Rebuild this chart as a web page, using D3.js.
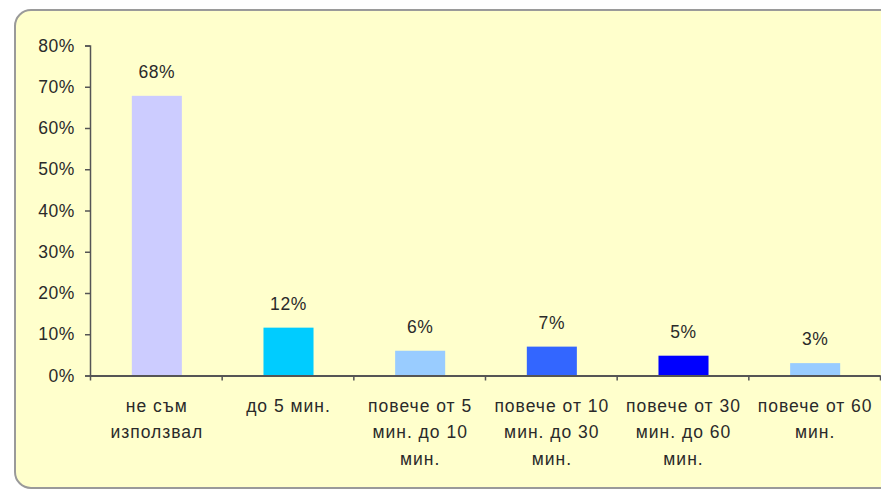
<!DOCTYPE html>
<html>
<head>
<meta charset="utf-8">
<script src="https://cdn.jsdelivr.net/npm/d3@7"></script>
<style>
  body { margin: 0; background: #fff; }
  svg { display: block; font-family: "Liberation Sans", Arial, sans-serif; }
</style>
</head>
<body>
<svg id="viz" width="881" height="491"></svg>
<script>
// chart data
const categories = [
  ['не съм', 'използвал'],
  ['до 5 мин.'],
  ['повече от 5', 'мин. до 10', 'мин.'],
  ['повече от 10', 'мин. до 30', 'мин.'],
  ['повече от 30', 'мин. до 60', 'мин.'],
  ['повече от 60', 'мин.']
];
const values = [67.8, 11.6, 6, 7, 4.8, 3];
const barColors = ['#CCCCFF', '#00CCFF', '#99CCFF', '#3366FF', '#0000FF', '#99CCFF'];
const yTicks = [0, 10, 20, 30, 40, 50, 60, 70, 80];

const svg = d3.select('#viz');

// background panel
svg
  .append('rect')
  .attr('x', 15)
  .attr('y', 10)
  .attr('width', 880)
  .attr('height', 478)
  .attr('rx', 16)
  .attr('ry', 16)
  .style('fill', '#FFFFCC')
  .style('stroke', '#9a9a9a')
  .style('stroke-width', 2);

const plotLeft = 90, plotRight = 880, plotTop = 45.5, plotBottom = 375.5;

var x = d3
  .scaleBand()
  .domain(d3.range(categories.length))
  .range([plotLeft, plotRight])
  .paddingInner(0.62)
  .paddingOuter(0.31);

var y = d3.scaleLinear().domain([0, 80]).range([plotBottom, plotTop]);

// bars
svg
  .append('g')
  .selectAll('rect')
  .data(values)
  .join('rect')
  .attr('x', (d, i) => x(i) + 1)
  .attr('y', (d) => y(d))
  .attr('width', x.bandwidth())
  .attr('height', (d) => y(0) - y(d))
  .style('fill', (d, i) => barColors[i]);

// value labels
svg
  .append('g')
  .selectAll('text')
  .data(values)
  .join('text')
  .attr('x', (d, i) => x(i) + x.bandwidth() / 2 + 1)
  .attr('y', (d) => y(d) - 18)
  .attr('text-anchor', 'middle')
  .style('font-size', '17.5px')
  .style('letter-spacing', '0.6px')
  .style('fill', '#2a2a2a')
  .text((d) => Math.round(d) + '%');

// y axis
var yAxis = svg
  .append('g')
  .attr('transform', 'translate(' + plotLeft + ',0)')
  .call(
    d3.axisLeft(y)
      .tickValues(yTicks)
      .tickSize(5)
      .tickPadding(10)
      .tickFormat((d) => d + '%')
  );
yAxis.select('.domain').attr('stroke', '#555').attr('stroke-width', 1.5);
yAxis.selectAll('.tick line').attr('stroke', '#555').attr('stroke-width', 1.5);
yAxis
  .selectAll('text')
  .style('font-size', '17.5px')
  .style('letter-spacing', '0.6px')
  .style('font-family', '"Liberation Sans", Arial, sans-serif')
  .style('fill', '#2a2a2a');

// x axis (ticks between categories)
var xEdge = d3.scaleLinear().domain([0, categories.length]).range([plotLeft, plotRight]);
var xAxis = svg
  .append('g')
  .attr('transform', 'translate(0,' + plotBottom + ')')
  .call(d3.axisBottom(xEdge).ticks(categories.length).tickSize(5).tickSizeOuter(0).tickFormat(''));
xAxis.select('.domain').attr('stroke', '#555').attr('stroke-width', 2);
xAxis.selectAll('.tick line').attr('stroke', '#555').attr('stroke-width', 1.5);

// category labels
var cat = svg
  .append('g')
  .selectAll('text')
  .data(categories)
  .join('text')
  .attr('text-anchor', 'middle')
  .style('font-size', '17.5px')
  .style('letter-spacing', '1px')
  .style('fill', '#2a2a2a');

cat
  .selectAll('tspan')
  .data((d, i) => d.map((t) => ({ t: t, i: i })))
  .join('tspan')
  .attr('x', (d) => x(d.i) + x.bandwidth() / 2 + 1)
  .attr('y', (d, j) => plotBottom + 36 + j * 26.5)
  .text((d) => d.t);
</script>
</body>
</html>
